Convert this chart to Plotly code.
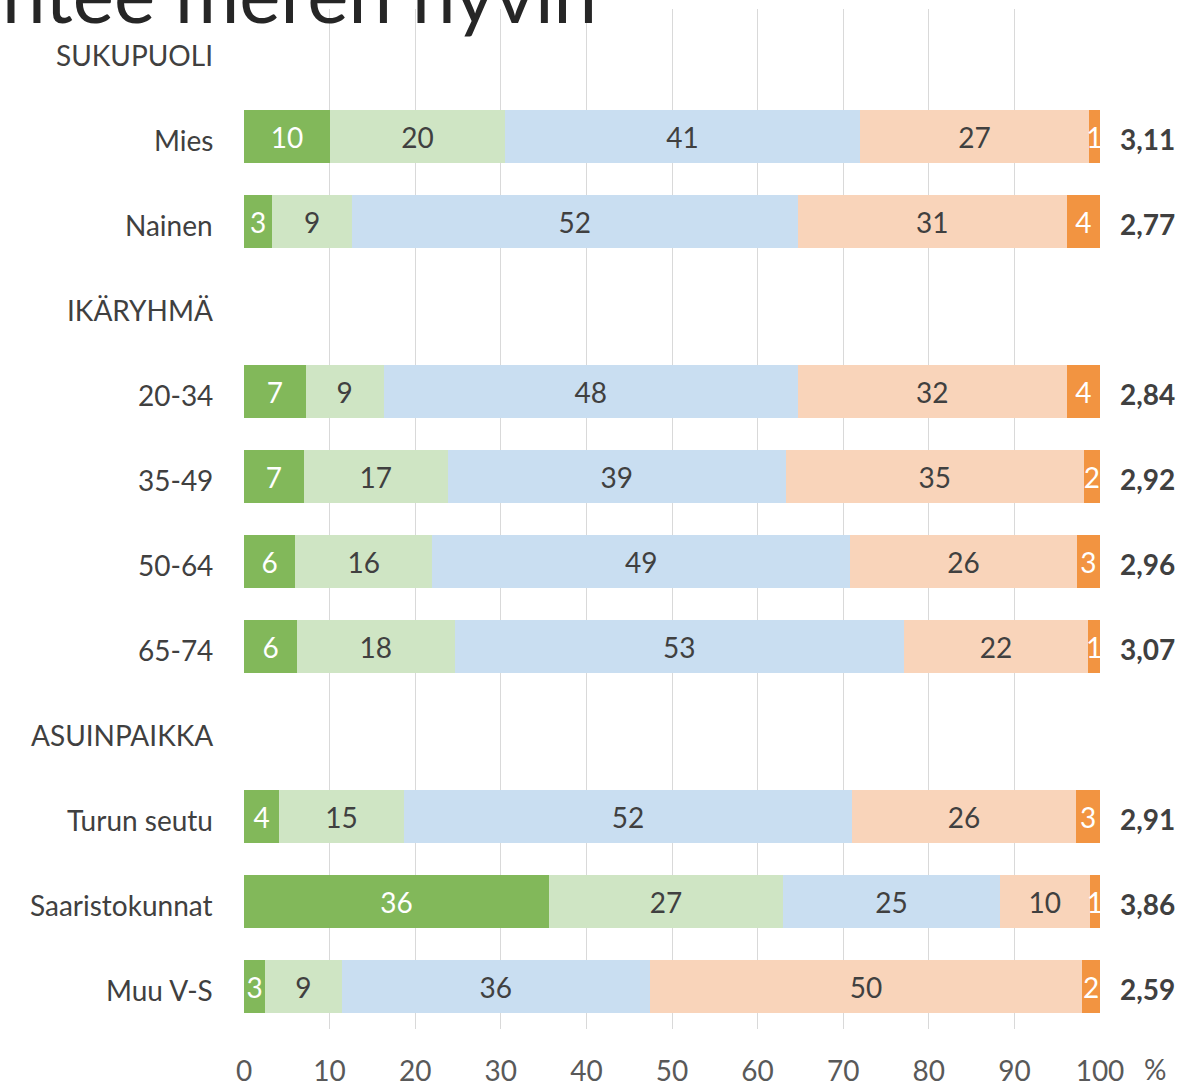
import plotly.graph_objects as go

categories = ["SUKUPUOLI", "Mies", "Nainen", "IKÄRYHMÄ", "20-34", "35-49", "50-64", "65-74",
              "ASUINPAIKKA", "Turun seutu", "Saaristokunnat", "Muu V-S"]

# segment widths (% of respondents); None = header row
s1 = [None, 10.05, 3.3, None, 7.2, 7.0, 6.0, 6.2, None, 4.1, 35.6, 2.5]
s2 = [None, 20.45, 9.3, None, 9.1, 16.8, 16.0, 18.4, None, 14.6, 27.4, 8.9]
s3 = [None, 41.45, 52.1, None, 48.4, 39.5, 48.8, 52.5, None, 52.3, 25.3, 36.0]
s4 = [None, 26.75, 31.4, None, 31.4, 34.8, 26.5, 21.5, None, 26.2, 10.5, 50.5]
s5 = [None, 1.3, 3.9, None, 3.9, 1.9, 2.7, 1.4, None, 2.8, 1.2, 2.1]

# printed labels
l1 = ["", "10", "3", "", "7", "7", "6", "6", "", "4", "36", "3"]
l2 = ["", "20", "9", "", "9", "17", "16", "18", "", "15", "27", "9"]
l3 = ["", "41", "52", "", "48", "39", "49", "53", "", "52", "25", "36"]
l4 = ["", "27", "31", "", "32", "35", "26", "22", "", "26", "10", "50"]
l5 = ["", "1", "4", "", "4", "2", "3", "1", "", "3", "1", "2"]

averages = ["", "3,11", "2,77", "", "2,84", "2,92", "2,96", "3,07", "", "2,91", "3,86", "2,59"]

xticks = [0, 10, 20, 30, 40, 50, 60, 70, 80, 90, 100]

colors = ["#82B85A", "#CFE5C4", "#C9DEF1", "#F9D4BA", "#F29441"]
textcolors = ["white", "#404040", "#404040", "#404040", "white"]

FONT = "Lato"
FS = 28

fig = go.Figure()
for vals, labs, col, tc in zip([s1, s2, s3, s4, s5], [l1, l2, l3, l4, l5], colors, textcolors):
    fig.add_trace(go.Bar(
        y=categories, x=vals, orientation="h", marker=dict(color=col, line=dict(width=0)),
        text=labs, textposition="inside", insidetextanchor="middle",
        textfont=dict(family=FONT, size=FS, color=tc), constraintext="none",
        cliponaxis=False, hoverinfo="skip", showlegend=False,
    ))

# category labels (left of the bars)
for cat in categories:
    fig.add_annotation(x=0, xref="paper", y=cat, yref="y", text=cat, showarrow=False,
                       xanchor="right", yanchor="middle", xshift=-29, yshift=-3,
                       font=dict(family=FONT, size=FS, color="#404040"))

# averages (right of the bars)
for cat, avg in zip(categories, averages):
    if avg:
        fig.add_annotation(x=1.055, xref="paper", y=cat, yref="y", text="<b>" + avg + "</b>",
                           showarrow=False, xanchor="center", yanchor="middle", yshift=-2,
                           font=dict(family=FONT, size=FS, color="#404040"))

fig.add_annotation(x=1.064, xref="paper", y=-0.039, yref="paper", text="%", showarrow=False,
                   xanchor="center", yanchor="middle", font=dict(family=FONT, size=FS, color="#595959"))

fig.add_annotation(x=-0.285, xref="paper", y=1.0, yref="paper", yshift=-33, text="ntee meren hyvin",
                   showarrow=False, xanchor="left", yanchor="bottom",
                   font=dict(family=FONT, size=78, color="#262626"))

fig.update_layout(
    width=1183, height=1086,
    margin=dict(l=244, r=83, t=9, b=57, autoexpand=False),
    barmode="stack", bargap=0.365,
    plot_bgcolor="white", paper_bgcolor="white",
    xaxis=dict(range=[0, 100], tickvals=xticks, ticktext=[str(v) for v in xticks],
               showgrid=True, gridcolor="#D9D9D9", gridwidth=1.3, zeroline=False,
               showline=False, ticks="outside", ticklen=17, tickcolor="rgba(0,0,0,0)",
               tickfont=dict(family=FONT, size=FS, color="#595959"), automargin=False),
    yaxis=dict(categoryorder="array", categoryarray=categories, autorange="reversed",
               showgrid=False, zeroline=False, showline=False, showticklabels=False,
               automargin=False),
)

fig.write_html("out.html", config={"displayModeBar": False},
               post_script="document.body.style.margin='0';document.body.style.overflow='hidden';")
